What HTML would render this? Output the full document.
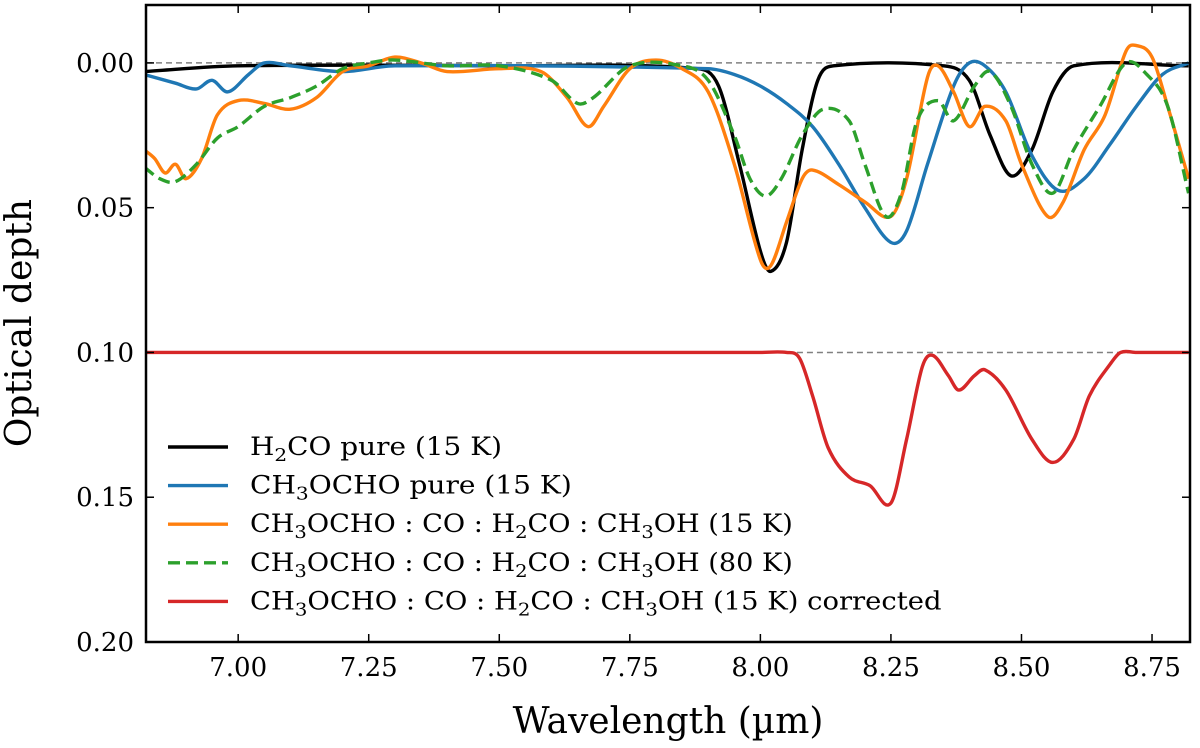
<!DOCTYPE html>
<html><head><meta charset="utf-8"><style>
body{margin:0;background:#fff;}
svg text{font-family:"DejaVu Serif","Liberation Serif",serif;fill:#000;}
</style></head><body>
<svg id="chart" width="1200" height="743" xmlns="http://www.w3.org/2000/svg"></svg>
<script>
const xTicks=[7.00,7.25,7.50,7.75,8.00,8.25,8.50,8.75];
const yTicks=[0.00,0.05,0.10,0.15,0.20];
const h2coX=[6.82,7.0,7.5,7.88,7.92,7.96,8.0,8.02,8.05,8.08,8.11,8.14,8.35,8.4,8.44,8.48,8.52,8.56,8.6,8.82];
const h2coY=[0.003,0.001,0.001,0.002,0.008,0.035,0.065,0.072,0.062,0.03,0.006,0.001,0.001,0.006,0.025,0.039,0.03,0.01,0.001,0.001];
const mfX=[6.82,6.88,6.92,6.95,6.98,7.02,7.05,7.1,7.2,7.3,7.9,7.95,8.0,8.05,8.1,8.15,8.2,8.25,8.28,8.32,8.37,8.4,8.43,8.47,8.52,8.57,8.62,8.67,8.72,8.77,8.82];
const mfY=[0.004,0.007,0.009,0.006,0.010,0.004,0.0,0.001,0.003,0.001,0.002,0.004,0.008,0.014,0.022,0.035,0.05,0.062,0.058,0.035,0.008,0.0,0.001,0.01,0.032,0.044,0.04,0.028,0.015,0.004,0.0];
const mix15X=[6.82,6.84,6.86,6.88,6.9,6.93,6.96,7.0,7.05,7.1,7.15,7.2,7.25,7.3,7.35,7.4,7.5,7.58,7.63,7.67,7.7,7.75,7.8,7.85,7.9,7.95,8.0,8.02,8.05,8.08,8.1,8.15,8.2,8.25,8.28,8.32,8.34,8.37,8.4,8.43,8.47,8.5,8.55,8.58,8.62,8.66,8.7,8.72,8.75,8.78,8.82];
const mix15Y=[0.030,0.033,0.038,0.035,0.040,0.033,0.018,0.013,0.014,0.016,0.012,0.003,0.001,-0.002,0.0,0.003,0.002,0.003,0.012,0.022,0.015,0.002,-0.001,0.002,0.01,0.035,0.068,0.07,0.055,0.04,0.037,0.042,0.048,0.053,0.04,0.005,0.001,0.01,0.022,0.015,0.02,0.035,0.053,0.048,0.03,0.018,-0.004,-0.006,-0.002,0.015,0.04];
const mix80X=[6.82,6.85,6.88,6.92,6.96,7.0,7.05,7.1,7.15,7.2,7.25,7.3,7.4,7.5,7.6,7.65,7.68,7.75,7.85,7.9,7.95,7.98,8.01,8.04,8.08,8.12,8.17,8.2,8.24,8.27,8.3,8.34,8.37,8.41,8.44,8.48,8.52,8.56,8.6,8.65,8.7,8.74,8.78,8.82];
const mix80Y=[0.036,0.040,0.041,0.035,0.026,0.022,0.015,0.012,0.008,0.002,0.0,-0.001,0.001,0.001,0.006,0.014,0.012,0.001,0.001,0.006,0.025,0.04,0.046,0.04,0.025,0.016,0.02,0.035,0.053,0.045,0.02,0.013,0.02,0.008,0.003,0.015,0.035,0.045,0.03,0.015,0.0,0.004,0.015,0.045];
const corrX=[6.82,8.0,8.05,8.075,8.1,8.13,8.17,8.21,8.25,8.28,8.31,8.33,8.36,8.38,8.41,8.43,8.47,8.52,8.56,8.6,8.63,8.67,8.69,8.72,8.82];
const corrY=[0.10,0.10,0.10,0.102,0.115,0.133,0.143,0.146,0.152,0.13,0.105,0.101,0.108,0.113,0.108,0.106,0.113,0.13,0.138,0.13,0.115,0.104,0.1,0.1,0.1];

const L=146,R=1190,T=5,B=642,X0=6.8235,X1=8.8227,Y0=-0.02,Y1=0.20;
const sx=v=>L+(v-X0)/(X1-X0)*(R-L);
const sy=v=>T+(v-Y0)/(Y1-Y0)*(B-T);
const svg=document.getElementById('chart');
const NS='http://www.w3.org/2000/svg';
function mk(tag,attrs,parent){const e=document.createElementNS(NS,tag);for(const k in attrs)e.setAttribute(k,attrs[k]);(parent||svg).appendChild(e);return e;}
function pathD(xs,ys){const p=xs.map((x,i)=>[sx(x),sy(ys[i])]);const n=p.length;
const m=p.map((q,i)=>{const a=p[Math.max(i-1,0)],b=p[Math.min(i+1,n-1)];return (b[1]-a[1])/(b[0]-a[0]);});
let d='M'+p[0][0]+','+p[0][1];
for(let i=0;i<n-1;i++){const dx=(p[i+1][0]-p[i][0])/3;
d+=' C'+(p[i][0]+dx)+','+(p[i][1]+m[i]*dx)+' '+(p[i+1][0]-dx)+','+(p[i+1][1]-m[i+1]*dx)+' '+p[i+1][0]+','+p[i+1][1];}return d;}
const defs=mk('defs',{});const cp=mk('clipPath',{id:'clip'},defs);mk('rect',{x:L,y:T,width:R-L,height:B-T},cp);
const g=mk('g',{'clip-path':'url(#clip)'});
let e=mk('line',{x1:L,x2:R,y1:sy(0),y2:sy(0),stroke:'#808080','stroke-width':1.5,'stroke-dasharray':'6,4'},g);

e=mk('line',{x1:sx(8.07),x2:R,y1:sy(0.10),y2:sy(0.10),stroke:'#808080','stroke-width':1.5,'stroke-dasharray':'6,4'},g);

const series=[[h2coX,h2coY,'#000000','','h2co-pure-line'],[mfX,mfY,'#1f77b4','','ch3ocho-pure-line'],[mix15X,mix15Y,'#ff7f0e','','mixture-15k-line'],[mix80X,mix80Y,'#2ca02c','12,6','mixture-80k-line'],[corrX,corrY,'#d62728','','mixture-15k-corrected-line']];
series.forEach(s=>{const p=mk('path',{d:pathD(s[0],s[1]),fill:'none',stroke:s[2],'stroke-width':3.4,'stroke-linejoin':'round','stroke-dasharray':s[3]||'none'},g);
});
e=mk('rect',{x:L,y:T,width:R-L,height:B-T,fill:'none',stroke:'#000','stroke-width':2.5});

xTicks.forEach(v=>{const x=sx(v);mk('line',{x1:x,x2:x,y1:B,y2:B-8,stroke:'#000','stroke-width':1.5});mk('line',{x1:x,x2:x,y1:T,y2:T+8,stroke:'#000','stroke-width':1.5});
const t=mk('text',{x:x,y:B+34,'text-anchor':'middle','font-size':26});t.textContent=v.toFixed(2);
});
yTicks.forEach(v=>{const y=sy(v);mk('line',{x1:L,x2:L+8,y1:y,y2:y,stroke:'#000','stroke-width':1.5});mk('line',{x1:R,x2:R-8,y1:y,y2:y,stroke:'#000','stroke-width':1.5});
const t=mk('text',{x:L-12,y:y+9,'text-anchor':'end','font-size':26});t.textContent=v.toFixed(2);
});
e=mk('text',{x:668,y:733,'text-anchor':'middle','font-size':36});e.textContent='Wavelength (µm)';

e=mk('text',{x:0,y:0,'text-anchor':'middle','font-size':36,transform:'translate(31,323) rotate(-90)'});e.textContent='Optical depth';

const sub='<tspan dy="6" font-size="18">3</tspan><tspan dy="-6">';
const mixTxt='CH'+sub+'OCHO : CO : H</tspan><tspan dy="6" font-size="18">2</tspan><tspan dy="-6">CO : CH</tspan><tspan dy="6" font-size="18">3</tspan><tspan dy="-6">OH ';
const leg=[['#000','','H<tspan dy="6" font-size="18">2</tspan><tspan dy="-6">CO pure (15 K)</tspan>',252],
['#1f77b4','','CH'+sub+'OCHO pure (15 K)</tspan>',322],
['#ff7f0e','',mixTxt+'(15 K)</tspan>',543],
['#2ca02c','12,6',mixTxt+'(80 K)</tspan>',543],
['#d62728','',mixTxt+'(15 K) corrected</tspan>',692]];
leg.forEach((l,i)=>{const y=447+i*38.6;const gg=mk('g',{});
mk('line',{x1:168,x2:228,y1:y,y2:y,stroke:l[0],'stroke-width':3.4,'stroke-dasharray':l[1]||'none'},gg);
const t=mk('text',{x:0,y:0,'font-size':25},gg);t.innerHTML=l[2];
const w=t.getBBox().width||l[3];const k=l[3]/w;
t.setAttribute('transform','translate(250,'+(y+8)+') scale('+k+',1)');});
</script>
</body></html>
